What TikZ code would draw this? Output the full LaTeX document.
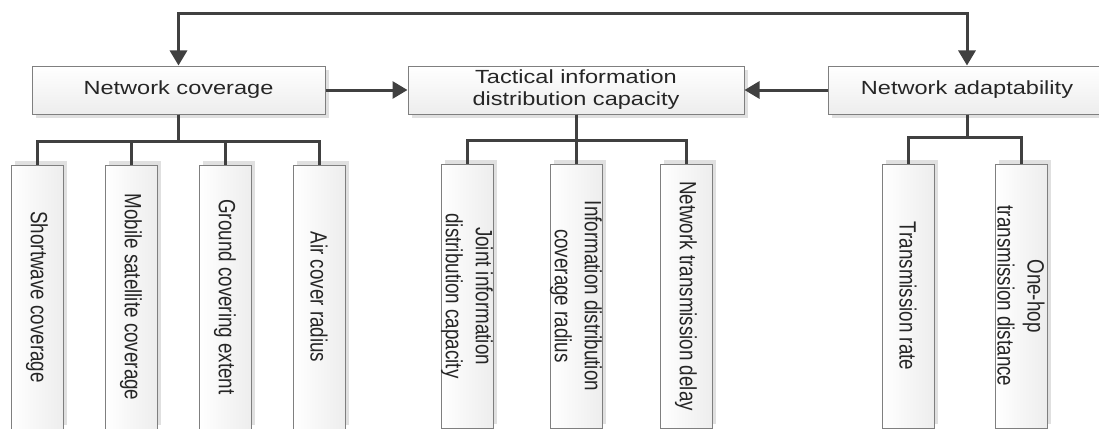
\documentclass[tikz,border=0pt]{standalone}
\usepackage{fontspec}
\setmainfont{Liberation Sans}
\newfontfamily\wideface[FakeStretch=1.24]{Liberation Sans}
\newfontfamily\tallface[FakeStretch=0.8]{Liberation Sans}
\usetikzlibrary{arrows.meta,shadows}
\definecolor{linegray}{HTML}{404040}
\definecolor{boxgray}{HTML}{7F7F7F}
\definecolor{txtgray}{HTML}{262626}

\begin{document}
\begin{tikzpicture}[x=1pt,y=-1pt,
  topbox/.style={draw=boxgray,line width=1pt,top color=white,bottom color=black!7,
    drop shadow={shadow xshift=4pt,shadow yshift=-4pt,fill=black!12,opacity=1},
    minimum height=48pt,inner sep=0pt,align=center,text=txtgray,
    font=\wideface\fontsize{19}{22}\selectfont},
  leafbox/.style={draw=boxgray,line width=1pt,left color=white,right color=black!7,
    drop shadow={shadow xshift=4pt,shadow yshift=4pt,fill=black!12,opacity=1},
    rotate=-90,minimum width=264pt,minimum height=52pt,inner sep=0pt,align=center,
    text=txtgray,font=\tallface\fontsize{23.5}{30}\selectfont},
  link/.style={draw=linegray,line width=3pt},
  tip/.style={-{Triangle[width=17pt,length=15pt]}}]

\useasboundingbox (0,0) rectangle (1099,428);
\node[topbox,minimum width=293pt] (cov) at (178.5,90) {Network coverage};
\node[topbox,minimum width=336pt] (tac) at (576,90) {Tactical information\\distribution capacity};
\node[topbox,minimum width=278pt] (ada) at (967,90) {Network adaptability};

\draw[link,{Triangle[width=17pt,length=15pt]}-{Triangle[width=17pt,length=15pt]}]
  (cov.north) -- ++(0,-52) -| (ada.north);
\draw[link,tip] (cov.east) -- (tac.west);
\draw[link,tip] (ada.west) -- (tac.east);

\foreach \leaf/\xpos/\txt in {sw/37/Shortwave coverage, ms/131/Mobile satellite coverage,
    gc/225/Ground covering extent, ac/319/Air cover radius}
  {\node[leafbox] (\leaf) at (\xpos,297) {\txt};
   \draw[link] (cov.south) -- ++(0,27) -| (\leaf.west);}

\foreach \leaf/\xpos/\txt in {jd/467/{Joint information\\distribution capacity},
    dc/576/{Information distribution\\coverage radius}, nd/686/Network transmission delay}
  {\node[leafbox] (\leaf) at (\xpos,296) {\txt};
   \draw[link] (tac.south) -- ++(0,26) -| (\leaf.west);}

\foreach \leaf/\xpos/\txt in {tr/908/Transmission rate, oh/1021/{One-hop\\transmission distance}}
  {\node[leafbox] (\leaf) at (\xpos,296) {\txt};
   \draw[link] (ada.south) -- ++(0,23) -| (\leaf.west);}
\end{tikzpicture}
\end{document}
